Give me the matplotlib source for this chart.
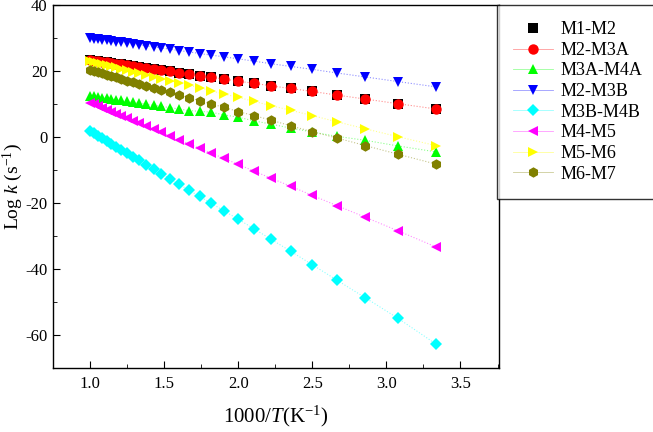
import numpy as np
import matplotlib
matplotlib.use("Agg")
from matplotlib import pyplot as plt
from matplotlib.ticker import MultipleLocator
from matplotlib.lines import Line2D

plt.rcParams['font.family'] = ['Liberation Serif', 'DejaVu Serif']
plt.rcParams['mathtext.fontset'] = 'custom'
plt.rcParams['mathtext.rm'] = 'Liberation Serif'
plt.rcParams['mathtext.it'] = 'Liberation Serif:italic'
plt.rcParams['axes.unicode_minus'] = False

# temperatures (K), x axis is 1000/T
temps = [1000, 975, 950, 925, 900, 875, 850, 825, 800, 775, 750, 725, 700, 675,
         650, 625, 600, 575, 550, 525, 500, 475, 450, 425, 400, 375, 350, 325, 300]

m1_m2 = [23.3, 23.1, 23.0, 22.8, 22.6, 22.4, 22.2, 22.0, 21.7, 21.5, 21.2, 20.9, 20.6, 20.2,
         19.9, 19.5, 19.1, 18.6, 18.1, 17.6, 16.9, 16.3, 15.5, 14.7, 13.8, 12.7, 11.5, 10.1, 8.4]
m2_m3a = [23.3, 23.1, 23.0, 22.8, 22.6, 22.4, 22.2, 22.0, 21.7, 21.5, 21.2, 20.9, 20.6, 20.2,
          19.9, 19.5, 19.1, 18.6, 18.1, 17.6, 16.9, 16.3, 15.5, 14.7, 13.8, 12.7, 11.5, 10.1, 8.5]
m3a_m4a = [12.5, 12.3, 12.1, 11.9, 11.7, 11.5, 11.3, 11.1, 10.8, 10.6, 10.3, 10.0, 9.6, 9.3,
           8.9, 8.5, 8.0, 7.8, 7.5, 6.7, 6.0, 4.9, 3.9, 2.7, 1.5, 0.2, -1.0, -2.7, -4.5]
m2_m3b = [30.0, 29.8, 29.7, 29.5, 29.3, 29.1, 28.9, 28.7, 28.4, 28.2, 27.9, 27.6, 27.3, 27.0,
          26.6, 26.2, 25.8, 25.3, 24.8, 24.3, 23.7, 23.0, 22.2, 21.4, 20.5, 19.4, 18.2, 16.8, 15.2]
m3b_m4b = [1.8, 1.1, 0.4, -0.4, -1.2, -2.0, -2.9, -3.9, -4.9, -6.0, -7.1, -8.4, -9.7, -11.1,
           -12.6, -14.3, -16.1, -18.0, -20.1, -22.4, -24.9, -27.8, -31.0, -34.6, -38.7, -43.4,
           -48.7, -54.9, -62.7]
m4_m5 = [10.4, 9.9, 9.4, 8.9, 8.3, 7.7, 7.1, 6.4, 5.7, 5.0, 4.2, 3.3, 2.4, 1.4,
         0.3, -0.8, -2.1, -3.4, -4.9, -6.5, -8.3, -10.3, -12.5, -14.9, -17.7, -20.8, -24.3, -28.4, -33.3]
m5_m6 = [23.0, 22.7, 22.4, 22.1, 21.8, 21.4, 21.1, 20.7, 20.2, 19.8, 19.3, 18.8, 18.3, 17.7,
         17.1, 16.4, 15.7, 14.9, 14.0, 13.0, 12.0, 10.8, 9.5, 8.1, 6.5, 4.6, 2.5, 0.1, -2.6]
m6_m7 = [20.3, 20.0, 19.6, 19.3, 18.9, 18.5, 18.1, 17.6, 17.1, 16.6, 16.1, 15.5, 14.9, 14.2,
         13.5, 12.7, 11.9, 11.0, 10.0, 9.0, 7.7, 6.5, 5.1, 3.4, 1.6, -0.3, -2.6, -5.2, -8.2]

x = 1000.0 / np.array(temps)

series = [
    ("M1-M2", m1_m2, "black", "s", False),
    ("M2-M3A", m2_m3a, "red", "o", True),
    ("M3A-M4A", m3a_m4a, "#00ff00", "^", True),
    ("M2-M3B", m2_m3b, "blue", "v", True),
    ("M3B-M4B", m3b_m4b, "cyan", "D", True),
    ("M4-M5", m4_m5, "magenta", "<", True),
    ("M5-M6", m5_m6, "yellow", ">", True),
    ("M6-M7", m6_m7, "#808000", "h", True),
]

fig = plt.figure(figsize=(6.53, 4.32), dpi=100)
ax = fig.add_axes([53 / 653, 64 / 432, 446 / 653, 363 / 432])

handles = []
labels = []
for name, vals, col, mk, has_line in series:
    ms = 6.5 if mk == "D" else 7.5
    if has_line:
        ax.plot(x, vals, color=col, linestyle=':', linewidth=0.8, alpha=0.45)
    ax.plot(x, vals, color=col, marker=mk, markersize=ms, markeredgewidth=0,
            linestyle='none')
    mark_h = Line2D([], [], color=col, marker=mk, markersize=ms, markeredgewidth=0,
                    linestyle='none')
    if has_line:
        line_h = Line2D([], [], color=col, linestyle='-', linewidth=0.6, alpha=0.4)
        handles.append((line_h, mark_h))
    else:
        handles.append(mark_h)
    labels.append(name)

ax.set_xlim(0.75, 3.76)
ax.set_ylim(-70, 40)
ax.xaxis.set_major_locator(MultipleLocator(0.5))
ax.xaxis.set_minor_locator(MultipleLocator(0.25))
ax.yaxis.set_major_locator(MultipleLocator(20))
ax.yaxis.set_minor_locator(MultipleLocator(10))
ax.tick_params(which='both', direction='in', top=False, right=False, labelsize=12)
ax.tick_params(which='major', length=5)
ax.tick_params(axis='x', which='major', pad=6)
ax.tick_params(axis='y', which='major', pad=4)
ax.tick_params(which='minor', length=3)
for s in ax.spines.values():
    s.set_linewidth(1.0)

ax.set_xlabel(r'1000/$T$(K$^{-1}$)', fontsize=15, labelpad=8)
ax.set_ylabel(r'Log $k$ (s$^{-1}$)', fontsize=14)
ax.yaxis.set_label_coords(-0.063, 0.5)

leg = fig.legend(handles, labels, loc='upper left', bbox_to_anchor=(497 / 653, 1 - 5 / 432),
                 fontsize=13, frameon=True, fancybox=False, borderaxespad=0,
                 labelspacing=0.2, handlelength=2.2, handletextpad=0.4,
                 borderpad=0.9)
leg.get_frame().set_edgecolor('black')
leg.get_frame().set_linewidth(1.0)

fig.savefig("out.png", dpi=100)
